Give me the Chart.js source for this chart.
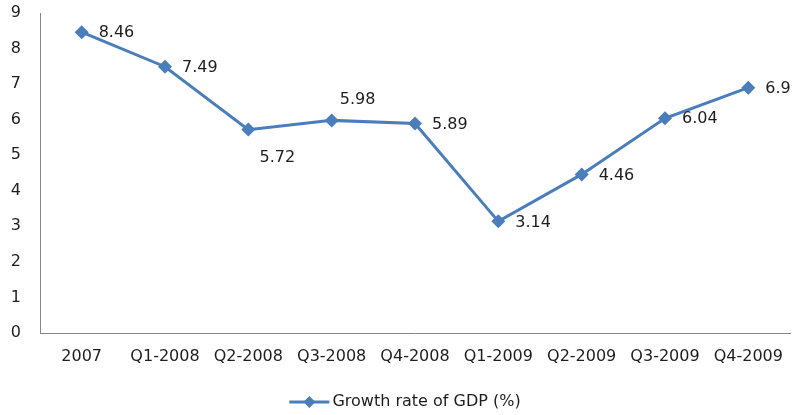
<!DOCTYPE html>
<html>
<head>
<meta charset="utf-8">
<script src="https://cdn.jsdelivr.net/npm/chart.js@4/dist/chart.umd.min.js"></script>
<style>
  html, body { margin: 0; padding: 0; background: #fff; }
  #wrap { width: 793px; height: 415px; }
</style>
</head>
<body>
<div id="wrap"><canvas id="gdpChart" width="793" height="415"></canvas></div>
<script>
// Chart data
const quarters = ['2007', 'Q1-2008', 'Q2-2008', 'Q3-2008', 'Q4-2008', 'Q1-2009', 'Q2-2009', 'Q3-2009', 'Q4-2009'];
const gdpGrowth = [8.46, 7.49, 5.72, 5.98, 5.89, 3.14, 4.46, 6.04, 6.9];
const yTicks = [0, 1, 2, 3, 4, 5, 6, 7, 8, 9];
const seriesName = 'Growth rate of GDP (%)';

// where each value label sits relative to its point
const labelPlacement = ['right', 'right', 'below', 'above', 'right', 'right', 'right', 'right', 'right'];

const lineColor = '#4A7EBB';
const textColor = '#1e1e1e';
const fontFamily = '"DejaVu Sans", sans-serif';

// Draw value labels next to each point
const valueLabels = {
    id: 'valueLabels',
    afterDatasetsDraw(chart) {
        const ctx = chart.ctx;
        const meta = chart.getDatasetMeta(0);
        ctx.save();
        ctx.font = '16px ' + fontFamily;
        ctx.fillStyle = textColor;
        ctx.textBaseline = 'middle';
        meta.data.forEach((pt, i) => {
            const text = String(gdpGrowth[i]);
            const pos = labelPlacement[i];
            if (pos === 'below') {
                ctx.textAlign = 'center';
                ctx.fillText(text, pt.x + 29, pt.y + 28);
            } else if (pos === 'above') {
                ctx.textAlign = 'center';
                ctx.fillText(text, pt.x + 26, pt.y - 21);
            } else {
                ctx.textAlign = 'left';
                ctx.fillText(text, pt.x + 17, pt.y + 1);
            }
        });
        ctx.restore();
    }
};

// Legend with line + diamond marker, centered at the bottom
const lineLegend = {
    id: 'lineLegend',
    afterDraw(chart) {
        const ctx = chart.ctx;
        ctx.save();
        ctx.font = '16px ' + fontFamily;
        const textW = ctx.measureText(seriesName).width;
        const sampleW = 40;
        const total = sampleW + 2 + textW;
        const x0 = (chart.width - total) / 2 + 8;
        const y = 402;
        ctx.strokeStyle = lineColor;
        ctx.lineWidth = 3;
        ctx.beginPath();
        ctx.moveTo(x0, y);
        ctx.lineTo(x0 + sampleW, y);
        ctx.stroke();
        ctx.fillStyle = lineColor;
        const cx = x0 + sampleW / 2, r = 6;
        ctx.beginPath();
        ctx.moveTo(cx, y - r);
        ctx.lineTo(cx + r, y);
        ctx.lineTo(cx, y + r);
        ctx.lineTo(cx - r, y);
        ctx.closePath();
        ctx.fill();
        ctx.fillStyle = textColor;
        ctx.textBaseline = 'middle';
        ctx.textAlign = 'left';
        ctx.fillText(seriesName, x0 + sampleW + 3, y);
        ctx.restore();
    }
};

document.addEventListener('DOMContentLoaded', function() {
    const ctx = document.getElementById('gdpChart').getContext('2d');

    new Chart(ctx, {
        type: 'line',
        data: {
            labels: quarters,
            datasets: [{
                label: seriesName,
                data: gdpGrowth,
                borderColor: lineColor,
                backgroundColor: lineColor,
                borderWidth: 3,
                pointStyle: 'rectRot',
                pointRadius: 7,
                pointBorderWidth: 0,
                pointBackgroundColor: lineColor,
                tension: 0
            }]
        },
        options: {
            responsive: false,
            animation: false,
            layout: {
                autoPadding: false,
                padding: { top: 13, right: 3, left: 0, bottom: 0 }
            },
            plugins: {
                legend: { display: false },
                tooltip: { enabled: false }
            },
            scales: {
                x: {
                    offset: true,
                    grid: { display: false, drawTicks: false },
                    border: { color: '#868686', width: 1 },
                    ticks: {
                        color: textColor,
                        padding: 14,
                        maxRotation: 0,
                        autoSkip: false,
                        font: { family: fontFamily, size: 16 }
                    },
                    afterFit: function(scale) {
                        scale.height = 82;
                        scale.paddingLeft = 0;
                        scale.paddingRight = 0;
                    }
                },
                y: {
                    min: 0,
                    max: 9,
                    afterBuildTicks: function(scale) {
                        scale.ticks = yTicks.map(v => ({ value: v }));
                    },
                    grid: { display: false, drawTicks: false },
                    border: { color: '#868686', width: 1 },
                    ticks: {
                        color: textColor,
                        padding: 19,
                        font: { family: fontFamily, size: 16 }
                    },
                    afterFit: function(scale) {
                        scale.width = 40;
                        scale.paddingTop = 0;
                        scale.paddingBottom = 0;
                    }
                }
            }
        },
        plugins: [valueLabels, lineLegend]
    });
});
</script>
</body>
</html>
